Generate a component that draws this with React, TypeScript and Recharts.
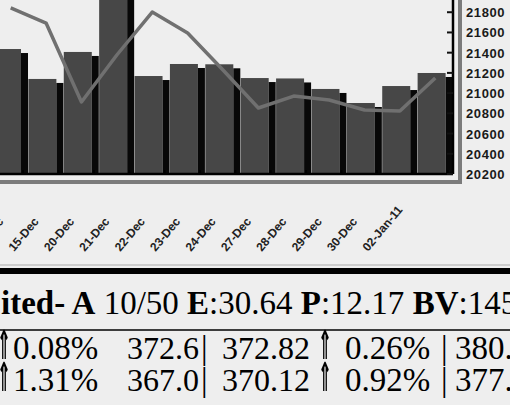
import { ComposedChart, Bar, Line, XAxis, YAxis } from 'recharts';

// trading days shown under the bars (last bar carries no label in the source)
const dates = ['14-Dec', '15-Dec', '20-Dec', '21-Dec', '22-Dec', '23-Dec', '24-Dec', '27-Dec', '28-Dec', '29-Dec', '30-Dec', '02-Jan-11', ''];
const closeValues = [21436, 21140, 21407, 21980, 21169, 21288, 21285, 21149, 21145, 21041, 20902, 21070, 21199];
const avgValues = [21842, 21693, 20912, 21377, 21802, 21594, 21229, 20853, 20971, 20932, 20833, 20823, 21150];
const priceTicks = [20200, 20400, 20600, 20800, 21000, 21200, 21400, 21600, 21800];

const chartData = dates.map((d, i) => ({ date: d, close: closeValues[i], avg: avgValues[i] }));

const SANS = '"Liberation Sans", Arial, sans-serif';
const SERIF = '"Liberation Serif", "Times New Roman", serif';

// flat face + dark side, like the old 3D-ish column charts
function BlockBar(props: any) {
  const { x, y, width, height } = props;
  const side = 7;
  return (
    <g>
      <rect x={x} y={y} width={width - side} height={height} fill="#474747" />
      <rect x={x + width - side} y={y + 4} width={side} height={Math.max(height - 4, 0)} fill="#080808" />
      <line x1={x + width - side + 2} x2={x + width - side + 2} y1={y + height - 4} y2={y + height + 1} stroke="#000" strokeWidth={2} />
    </g>
  );
}

function DateTick({ x, y, payload }: any) {
  return (
    <text
      transform={`translate(${x - 32},${y + 78}) rotate(-50)`}
      fontSize={12}
      fontWeight="bold"
      fontFamily={SANS}
      fill="#222"
      textAnchor="start"
    >
      {payload.value}
    </text>
  );
}

function PriceTick({ x, y, payload }: any) {
  return (
    <g>
      <line x1={x - 6} x2={x} y1={y} y2={y} stroke="#111" strokeWidth={2} />
      <text x={x + 13} y={y + 5} fontSize={13} fontWeight="bold" fontFamily={SANS} fill="#1a1a1a" style={{ letterSpacing: 0.6 }}>
        {payload.value}
      </text>
    </g>
  );
}

function Arrow({ x, y }: { x: number; y: number }) {
  return (
    <text
      transform={`translate(${x},${y}) scale(0.42,1)`}
      fontSize={40}
      fontFamily='"DejaVu Sans", sans-serif'
      fontWeight="bold"
      fill="#000"
      style={{ filter: 'grayscale(1)' }}
    >
      ⇑
    </text>
  );
}

export default function App() {
  return (
    <div style={{ position: 'relative', width: 510, height: 405, overflow: 'hidden', background: '#eeeeee' }}>
      <style>{'body{margin:0}'}</style>

      {/* quote table under the chart */}
      <svg width={510} height={405} style={{ position: 'absolute', left: 0, top: 0 }}>
        <line x1={0} x2={510} y1={265} y2={265} stroke="#aaa" strokeWidth={1} />
        <rect x={0} y={268} width={510} height={6} fill="#000" />
        <text x={1} y={314} fontSize={33} fontFamily={SERIF} fill="#000">
          <tspan fontWeight="bold">ited- A</tspan>
          {' 10/50 '}
          <tspan fontWeight="bold">E</tspan>
          {':30.64 '}
          <tspan fontWeight="bold">P</tspan>
          {':12.17 '}
          <tspan fontWeight="bold">BV</tspan>
          {':145'}
        </text>
        <line x1={0} x2={510} y1={330} y2={330} stroke="#000" strokeWidth={1.5} />

        <Arrow x={-3} y={359} />
        <text x={13} y={359} fontSize={33} fontFamily={SERIF}>0.08%</text>
        <text x={127} y={359} fontSize={32} fontFamily={SERIF}>372.6</text>
        <text x={201} y={359} fontSize={33} fontFamily={SERIF}>|</text>
        <text x={222} y={359} fontSize={32} fontFamily={SERIF}>372.82</text>
        <Arrow x={318} y={359} />
        <text x={345} y={359} fontSize={33} fontFamily={SERIF}>0.26%</text>
        <text x={441} y={359} fontSize={33} fontFamily={SERIF}>|</text>
        <text x={455} y={359} fontSize={33} fontFamily={SERIF}>380.</text>

        <Arrow x={-3} y={391} />
        <text x={13} y={391} fontSize={33} fontFamily={SERIF}>1.31%</text>
        <text x={127} y={391} fontSize={32} fontFamily={SERIF}>367.0</text>
        <text x={201} y={391} fontSize={33} fontFamily={SERIF}>|</text>
        <text x={222} y={391} fontSize={32} fontFamily={SERIF}>370.12</text>
        <Arrow x={318} y={391} />
        <text x={345} y={391} fontSize={33} fontFamily={SERIF}>0.92%</text>
        <text x={441} y={391} fontSize={33} fontFamily={SERIF}>|</text>
        <text x={455} y={391} fontSize={33} fontFamily={SERIF}>377.</text>
      </svg>

      {/* chart frame */}
      <div
        style={{
          position: 'absolute',
          left: -10,
          top: -10,
          width: 472,
          height: 194,
          boxSizing: 'border-box',
          border: '4px solid #7b7b7b',
        }}
      />

      <div style={{ position: 'absolute', left: -20, top: -20 }}>
        <ComposedChart
          width={533}
          height={300}
          data={chartData}
          margin={{ top: 12, right: 0, bottom: 46, left: 13 }}
          barCategoryGap={0}
          barGap={0}
        >
          <XAxis
            dataKey="date"
            height={60}
            interval={0}
            tickLine={false}
            tickSize={0}
            tickMargin={0}
            axisLine={{ stroke: '#000', strokeWidth: 2.5 }}
            tick={<DateTick />}
          />
          <YAxis
            orientation="right"
            width={60}
            domain={[20200, 22000]}
            ticks={priceTicks}
            interval={0}
            tickLine={false}
            tickSize={0}
            tickMargin={0}
            axisLine={{ stroke: '#000', strokeWidth: 2.5 }}
            tick={<PriceTick />}
          />
          <Bar dataKey="close" shape={<BlockBar />} isAnimationActive={false} />
          <Line
            type="linear"
            dataKey="avg"
            stroke="#707070"
            strokeWidth={3.5}
            strokeLinejoin="round"
            strokeLinecap="butt"
            dot={false}
            activeDot={false}
            isAnimationActive={false}
          />
        </ComposedChart>
      </div>
    </div>
  );
}
